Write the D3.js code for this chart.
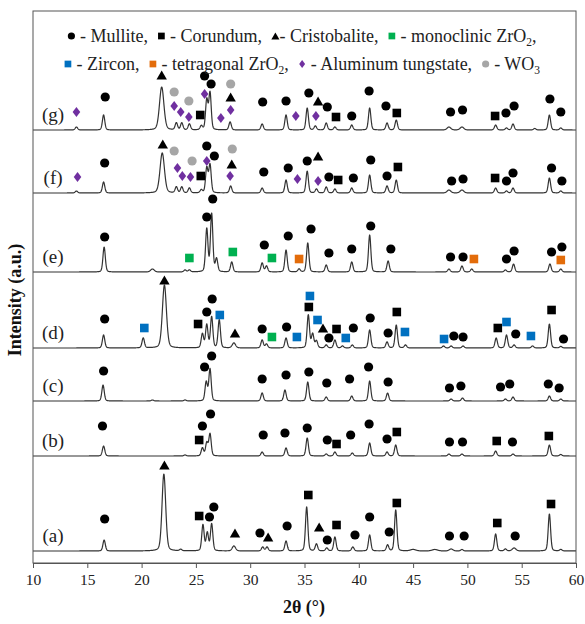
<!DOCTYPE html>
<html lang="en">
<head>
  <meta charset="UTF-8" />
  <title>XRD patterns (a)-(g)</title>
  <script src="https://d3js.org/d3.v7.min.js"></script>
  <style>
    body { margin: 0; background: #fff; }
    svg, svg text { font-family: "Liberation Serif", "Times New Roman", "DejaVu Serif", serif; }
    svg text { white-space: pre; }
  </style>
</head>
<body>
<div id="chart"></div>
<script>
  // ---------- DATA ----------
  // peaks: [2theta, intensity, halfwidth(optional)]
  const peaksA = [[16.55,11],[22.05,77,0.2],[23.6,1.5],[25.65,26],[26.05,18],[26.45,27],[28.5,5,0.18],[31.15,4],[31.55,4],[33.3,10],
    [35.2,44],[36.1,7],[37.05,3],[37.8,14],[39.45,4],[41.0,16],[42.65,6],[43.4,41],[45.0,1.5,0.3],[47.0,1.5,0.3],[48.5,2,0.2],
    [49.5,1.5],[52.6,17],[53.5,2],[54.3,3,0.2],[57.55,37],[58.6,1.5]];
  const peaksB = [[16.5,10],[24.0,1],[25.6,8],[26.0,13],[26.3,22],[31.1,4],[33.3,8],[35.25,18],[37.0,2],[37.8,4],[39.4,3],
    [41.0,13],[42.6,4],[43.4,11],[48.3,2],[49.5,2],[52.6,5],[54.2,2],[57.55,11],[58.6,1.5]];
  const peaksC = [[16.45,16],[21.0,1],[24.0,1],[25.95,19],[26.3,32],[31.1,8],[33.2,11],[35.3,19],[37.0,4],[39.35,5],[41.0,20],
    [42.65,8],[48.5,2],[49.55,3],[53.5,2],[54.2,4],[57.55,5],[58.6,2]];
  const peaksD = [[16.5,13],[20.15,10],[22.1,63,0.22],[25.6,14],[26.0,23],[26.45,31],[27.15,28],[28.5,5,0.18],[31.1,8],[31.5,4],
    [33.3,10],[35.35,33],[35.75,14],[36.1,7],[37.0,3],[37.8,8],[38.5,2],[39.4,3],[41.0,18],[42.6,6],[43.45,23],[44.3,3],
    [47.8,2],[48.5,2],[49.6,2],[52.65,10],[53.6,13],[54.3,3],[56.0,2],[57.55,24],[58.6,1.5]];
  const peaksE = [[16.55,25],[21.0,3,0.2],[24.0,2],[24.4,2],[26.0,43],[26.45,58],[26.9,13],[28.3,10],[31.1,9],[31.5,6],
    [33.3,22],[34.5,3],[35.3,29],[37.0,7],[39.35,10],[41.0,37],[42.7,11],[48.3,3],[49.5,6],[50.4,3],[53.5,2],[54.25,8],
    [57.6,8],[58.6,3]];
  const peaksF = [[14.0,2],[16.5,11],[21.9,40,0.24],[23.2,6],[23.7,6],[24.4,5],[25.5,3],[26.0,25],[26.3,28],[28.2,7],[31.1,5],
    [33.3,13],[35.25,22],[36.1,4],[37.0,6],[37.8,4],[39.35,5],[41.0,18],[42.6,7],[43.45,13],[48.3,3,0.2],[49.5,3,0.2],
    [52.6,5],[53.6,2],[54.2,5],[57.55,15],[58.6,2]];
  const peaksG = [[14.0,3],[16.5,15],[21.85,43,0.24],[23.2,7],[23.7,7],[24.4,6],[25.5,4],[26.0,30],[26.3,37],[28.15,8],
    [31.1,6],[33.3,15],[35.25,22],[36.0,4],[37.0,7],[37.8,3],[39.35,5],[41.0,22],[42.6,7],[43.45,10],[48.3,3,0.2],
    [49.5,3,0.2],[52.6,5],[53.6,2],[54.2,6],[56.2,1.5],[57.55,15],[58.6,2]];

  // phase markers: [phase, 2theta, height above pattern baseline]
  const markersA = [['M',16.6,32],['X',22.1,86],['C',25.3,35],['M',26.25,34],['M',26.65,44],['X',28.6,18],['M',30.9,18],
    ['X',31.65,14],['M',33.4,25],['C',35.35,56],['X',36.35,24],['M',37.1,11],['C',37.95,26],['M',39.65,16],['M',41.0,34],
    ['M',42.8,19],['C',43.5,48],['M',48.35,15],['M',49.7,15],['C',52.75,28],['M',54.4,15],['C',57.7,47]];
  const markersB = [['M',16.4,30],['C',25.3,16],['M',25.6,30],['M',26.35,42],['M',31.2,21],['M',33.2,23],['M',35.25,28],
    ['M',37.1,16],['C',37.95,12],['M',39.25,21],['M',40.95,32],['M',42.6,17],['C',43.5,24],['M',48.35,14],['M',49.55,14],
    ['C',52.7,15],['M',54.15,14],['C',57.5,20]];
  const markersC = [['M',16.5,30],['M',25.8,34],['M',26.45,45],['M',31.1,22],['M',33.3,26],['M',35.4,29],['M',37.05,18],
    ['M',39.15,22],['M',40.9,34],['M',42.7,19],['M',48.35,13],['M',49.4,15],['M',53.05,14],['M',53.9,17],['M',57.45,17],
    ['M',58.45,13]];
  const markersD = [['M',16.6,29],['Zr',20.25,20],['X',22.1,68],['C',25.2,24],['M',26.0,36],['M',26.5,49],['Zr',27.2,33],
    ['X',28.6,15],['M',31.1,19],['Zm',32.0,11],['M',33.35,21],['Zr',34.3,11],['Zr',35.5,52],['C',35.4,41],['Zr',36.2,28],
    ['X',36.7,20],['M',37.25,10],['C',37.95,19],['Zr',38.8,10],['M',39.5,20],['M',41.05,30],['M',42.7,15],['C',43.5,36],
    ['Zr',44.25,16],['Zr',47.85,9],['M',48.75,12],['M',49.6,11],['C',52.8,20],['Zr',53.6,26],['M',54.45,14],['Zr',55.85,12],
    ['C',57.75,38],['M',58.85,9]];
  const markersE = [['M',16.6,35],['Zm',24.4,14],['M',26.0,55],['M',26.55,73],['Zm',28.4,20],['M',31.3,27],['Zm',32.0,14],
    ['M',33.5,36],['Zt',34.5,13],['M',35.6,43],['M',37.25,19],['M',39.35,23],['M',41.1,46],['M',42.95,23],['M',48.45,15],
    ['M',49.6,15],['Zt',50.6,13],['M',53.6,13],['M',54.3,21],['M',57.75,20],['M',58.7,25],['Zt',58.6,12]];
  const markersF = [['AT',14.1,16],['M',16.6,30],['X',21.95,49],['W',23.0,42],['AT',23.3,25],['AT',23.75,17],['AT',24.5,16],
    ['W',24.65,32],['C',25.45,17],['M',26.0,47],['AT',26.0,32],['M',26.7,37],['W',28.35,44],['X',28.3,29],['AT',28.15,17],
    ['M',31.25,21],['M',33.5,25],['AT',34.35,14],['M',35.25,32],['X',36.25,37],['AT',36.25,12],['M',37.25,16],['C',38.1,13],
    ['M',39.5,15],['M',41.1,33],['M',42.6,17],['C',43.6,26],['M',48.55,12],['M',49.6,14],['C',52.55,15],['M',53.6,12],
    ['M',54.2,20],['M',57.75,25],['M',58.7,12]];
  const markersG = [['AT',14.0,18],['M',16.65,33],['X',21.85,55],['W',23.0,38],['AT',23.0,24],['AT',23.6,18],['W',24.35,29],
    ['AT',24.35,13],['C',25.4,15],['M',25.8,54],['AT',25.8,36],['M',26.4,46],['AT',27.3,12],['W',28.2,46],['X',28.2,33],
    ['AT',28.2,20],['M',31.15,28],['M',33.3,29],['AT',34.2,14],['M',35.4,37],['X',36.25,29],['AT',36.05,14],['M',37.1,23],
    ['C',37.9,13],['M',39.35,14],['M',40.95,39],['M',42.5,24],['C',43.5,17],['M',48.45,18],['M',49.55,20],['C',52.55,14],
    ['M',53.55,17],['M',54.3,24],['M',57.6,31],['M',58.6,18]];

  const sampleLabels = ["(a)", "(b)", "(c)", "(d)", "(e)", "(f)", "(g)"];
  const sampleOffsets = [12, 107, 162, 215, 291, 370, 433];   // vertical stacking (a.u.)
  const samplePeaks = [peaksA, peaksB, peaksC, peaksD, peaksE, peaksF, peaksG];
  const sampleMarkers = [markersA, markersB, markersC, markersD, markersE, markersF, markersG];
  const xTicks = [10, 15, 20, 25, 30, 35, 40, 45, 50, 55, 60];

  const legendRows = [
    [['M', ' - Mullite, '], ['C', ' - Corundum, '], ['X', '- Cristobalite, '], ['Zm', ' - monoclinic ZrO', '2', ',']],
    [['Zr', ' - Zircon, '], ['Zt', ' - tetragonal ZrO', '2', ', '], ['AT', ' - Aluminum tungstate, '], ['W', ' - WO', '3', '']]
  ];

  // ---------- CHART ----------
  const width = 585, height = 624;
  const serif = "'Liberation Serif', 'Times New Roman', 'DejaVu Serif', serif";
  const svg = d3.select("#chart").append("svg").attr("width", width).attr("height", height)
    .attr("font-family", serif);

  const x = d3.scaleLinear().domain([10, 60]).range([33, 576]);
  const y = d3.scaleLinear().domain([0, 552]).range([563, 11]);

  const phaseColor = { M: "#000", C: "#000", X: "#000", Zm: "#00b050", Zr: "#0070c0", Zt: "#e36c0a", AT: "#7030a0", W: "#a6a6a6" };

  function drawSymbol(g, type, cx, cy, s) {
    const c = phaseColor[type];
    if (type === "M" || type === "W") {
      g.append("circle").attr("cx", cx).attr("cy", cy).attr("r", 4.6 * s).attr("fill", c);
    } else if (type === "X") {
      const w = 5.2 * s, h = 4.6 * s;
      g.append("path").attr("d", `M${cx},${cy - h}L${cx + w},${cy + h}L${cx - w},${cy + h}Z`).attr("fill", c);
    } else if (type === "AT") {
      const w = 3.8 * s, h = 5 * s;
      g.append("path").attr("d", `M${cx},${cy - h}L${cx + w},${cy}L${cx},${cy + h}L${cx - w},${cy}Z`).attr("fill", c);
    } else {
      const a = 4.3 * s;
      g.append("rect").attr("x", cx - a).attr("y", cy - a).attr("width", 2 * a).attr("height", 2 * a).attr("fill", c);
    }
  }

  // broadened profile from the peak list
  function profile(peaks) {
    const pts = [];
    for (let i = 0; i <= 2500; i++) {
      const t = 10 + i * 0.02;
      let s = 0;
      for (const p of peaks) {
        const hw = p[2] || 0.13;
        const d = (t - p[0]) / hw;
        s += p[1] * (0.25 / (1 + d * d) + 0.75 * Math.exp(-Math.LN2 * d * d));
      }
      pts.push([t, s]);
    }
    return pts;
  }

  const line = d3.line();

  samplePeaks.forEach((peaks, i) => {
    const off = sampleOffsets[i];
    svg.append("path")
      .attr("d", line(profile(peaks).map(d => [x(d[0]), y(off + d[1])])))
      .attr("fill", "none")
      .attr("stroke", "#333")
      .attr("stroke-width", 1.2)
      .attr("stroke-linejoin", "round");

    const mg = svg.append("g");
    sampleMarkers[i].forEach(m => drawSymbol(mg, m[0], x(m[1]), y(off + m[2]), 1));

    svg.append("text")
      .attr("x", x(11.85)).attr("y", y(off + 16))
      .attr("text-anchor", "middle").attr("dominant-baseline", "central")
      .attr("font-size", 19).attr("fill", "#222")
      .text(sampleLabels[i]);
  });

  // frame + bottom axis
  svg.append("rect").attr("x", 33).attr("y", 11).attr("width", 543).attr("height", 552)
    .attr("fill", "none").attr("stroke", "#555").attr("stroke-width", 1);

  const xAxis = svg.append("g").attr("transform", "translate(0,563)")
    .call(d3.axisBottom(x).tickValues(xTicks).tickSize(5).tickPadding(6).tickFormat(d3.format("d")))
    .attr("font-family", serif);
  xAxis.select(".domain").attr("stroke", "#555");
  xAxis.selectAll(".tick line").attr("stroke", "#555");
  xAxis.selectAll("text").attr("font-size", 15.5).attr("fill", "#222");

  svg.append("text").attr("x", 304).attr("y", 613).attr("text-anchor", "middle")
    .attr("font-size", 18).attr("font-weight", "bold").attr("fill", "#111").text("2θ (°)");

  svg.append("text").attr("transform", "translate(21,300) rotate(-90)").attr("text-anchor", "middle")
    .attr("font-size", 18).attr("font-weight", "bold").attr("fill", "#111").text("Intensity (a.u.)");

  // legend (two centred rows inside the frame)
  const legendY = [36, 64];
  legendRows.forEach((row, r) => {
    const g = svg.append("g");
    let cx = 0;
    row.forEach(item => {
      drawSymbol(g, item[0], cx + 4, legendY[r], 0.78);
      const t = g.append("text").attr("x", cx + 8).attr("y", legendY[r] + 5.5)
        .attr("font-size", 18).attr("fill", "#222");
      t.append("tspan").text(item[1]);
      if (item[2]) {
        t.append("tspan").attr("font-size", 11.5).attr("dy", 4).text(item[2]);
        t.append("tspan").attr("dy", -4).text(item[3]);
      }
      cx += 8 + t.node().getComputedTextLength() + 5;
    });
    const w = cx - 5;
    g.attr("transform", `translate(${302 - w / 2},0)`);
  });
</script>
</body>
</html>
